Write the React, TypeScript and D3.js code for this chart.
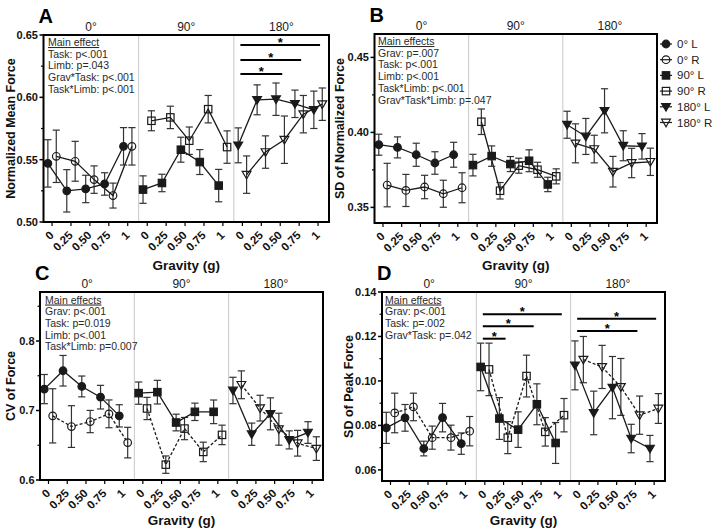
import React from 'react';
import * as d3 from 'd3';

const gravity = ['0', '0.25', '0.50', '0.75', '1'];
const tilts = ['0°', '90°', '180°'];
const legendLabels = ['0° L', '0° R', '90° L', '90° R', '180° L', '180° R'];

// A: normalized mean force, rows = 0°, 90°, 180°
const aLeftMean = [
  [0.547, 0.525, 0.5265, 0.5305, 0.5607],
  [0.526, 0.5313, 0.558, 0.5481, 0.5292],
  [0.5615, 0.598, 0.5985, 0.5948, 0.59],
];
const aLeftErr = [
  [0.019, 0.017, 0.011, 0.009, 0.015],
  [0.011, 0.007, 0.01, 0.01, 0.013],
  [0.014, 0.012, 0.013, 0.011, 0.015],
];
const aRightMean = [
  [0.5527, 0.5487, 0.534, 0.5212, 0.5607],
  [0.5812, 0.5839, 0.5652, 0.5905, 0.5601],
  [0.538, 0.5561, 0.566, 0.5865, 0.5945],
];
const aRightErr = [
  [0.021, 0.016, 0.011, 0.01, 0.015],
  [0.008, 0.009, 0.011, 0.011, 0.013],
  [0.015, 0.013, 0.019, 0.015, 0.013],
];

// B: SD of normalized force
const bLeftMean = [
  [0.3918, 0.39, 0.3851, 0.3796, 0.3851],
  [0.3782, 0.3842, 0.3789, 0.3811, 0.3653],
  [0.4051, 0.3973, 0.4144, 0.3911, 0.3907],
];
const bLeftErr = [
  [0.007, 0.007, 0.0077, 0.0075, 0.0083],
  [0.0072, 0.0068, 0.005, 0.0073, 0.0048],
  [0.009, 0.012, 0.0147, 0.01, 0.0085],
];
const bRightMean = [
  [0.3649, 0.3613, 0.3636, 0.3591, 0.3631],
  [0.4071, 0.3611, 0.3778, 0.3751, 0.3707],
  [0.3927, 0.3889, 0.3738, 0.3796, 0.3804],
];
const bRightErr = [
  [0.0145, 0.0107, 0.0078, 0.009, 0.01],
  [0.0085, 0.0055, 0.005, 0.005, 0.005],
  [0.013, 0.0092, 0.0102, 0.0098, 0.0091],
];

// C: CV of force
const cLeftMean = [
  [0.7308, 0.7572, 0.7346, 0.7192, 0.6923],
  [0.725, 0.7264, 0.6827, 0.6981, 0.6981],
  [0.7288, 0.6659, 0.6952, 0.6577, 0.6683],
];
const cLeftErr = [
  [0.021, 0.022, 0.015, 0.017, 0.016],
  [0.016, 0.017, 0.012, 0.0125, 0.017],
  [0.019, 0.016, 0.023, 0.013, 0.0156],
];
const cRightMean = [
  [0.6923, 0.6769, 0.6841, 0.6952, 0.6538],
  [0.7029, 0.6221, 0.674, 0.6404, 0.6649],
  [0.737, 0.7034, 0.6731, 0.6529, 0.6452],
];
const cRightErr = [
  [0.039, 0.03, 0.016, 0.02, 0.022],
  [0.016, 0.0125, 0.016, 0.014, 0.014],
  [0.02, 0.0185, 0.023, 0.0185, 0.017],
];

// D: SD of peak force
const dLeftMean = [
  [0.0789, 0.0834, 0.0696, 0.0835, 0.0718],
  [0.1063, 0.0831, 0.0781, 0.0895, 0.0721],
  [0.107, 0.0856, 0.097, 0.0741, 0.0696],
];
const dLeftErr = [
  [0.007, 0.006, 0.0033, 0.0064, 0.0048],
  [0.0107, 0.0094, 0.008, 0.0092, 0.0092],
  [0.011, 0.0098, 0.014, 0.0064, 0.0059],
];
const dRightMean = [
  [0.0856, 0.0883, 0.0745, 0.0745, 0.0774],
  [0.1052, 0.0745, 0.1022, 0.0771, 0.0846],
  [0.1096, 0.1063, 0.0973, 0.0846, 0.0876],
];
const dRightErr = [
  [0.0089, 0.0062, 0.0052, 0.0056, 0.0066],
  [0.0118, 0.0072, 0.0094, 0.0064, 0.0075],
  [0.0104, 0.0097, 0.0128, 0.0086, 0.0067],
];

const aNotes = ['Main effect', 'Task: p<.001', 'Limb: p=.043', 'Grav*Task: p<.001', 'Task*Limb: p<.001'];
const bNotes = ['Main effects', 'Grav: p=.007', 'Task: p<.001', 'Limb: p<.001', 'Task*Limb: p<.001', 'Grav*Task*Limb: p=.047'];
const cNotes = ['Main effects', 'Grav: p<.001', 'Task: p=0.019', 'Limb: p<.001', 'Task*Limb: p=0.007'];
const dNotes = ['Main effects', 'Grav: p<.001', 'Task: p=.002', 'Grav*Task: p=.042'];

// significance bars: section index, from / to category index, height in data units
const aSig = [
  { s: 2, from: 0, to: 4, y: 0.642 },
  { s: 2, from: 0, to: 3, y: 0.63 },
  { s: 2, from: 0, to: 2, y: 0.6188 },
];
const dSig = [
  { s: 1, from: 0, to: 4, y: 0.13 },
  { s: 1, from: 0, to: 2.5, y: 0.1246 },
  { s: 1, from: 0, to: 1, y: 0.119 },
  { s: 2, from: 0, to: 4, y: 0.128 },
  { s: 2, from: 0, to: 3, y: 0.1225 },
];

const FONT = 'Arial, "Liberation Sans", sans-serif';
const INK = '#1a1a1a';
const shapes = ['circle', 'square', 'triangle'];

type Sig = { s: number; from: number; to: number; y: number };
interface PanelCfg {
  letter: string;
  box: [number, number, number, number];
  domain: [number, number];
  major: number[];
  minor: number[];
  fmt: string;
  yLabel: string;
  yLabelX: number;
  gravY: number;
  notes: string[];
  notesAt: [number, number];
  L: number[][];
  Le: number[][];
  R: number[][];
  Re: number[][];
  dashR: boolean;
  sig: Sig[];
  legend: boolean;
}

const Marker: React.FC<{ shape: string; filled: boolean; x: number; y: number }> = ({ shape, filled, x, y }) => {
  const fill = filled ? INK : 'none';
  const common = { fill, stroke: INK, strokeWidth: 1.2 };
  if (shape === 'circle') return <circle cx={x} cy={y} r={3.8} {...common} />;
  if (shape === 'square') return <rect x={x - 3.7} y={y - 3.7} width={7.4} height={7.4} {...common} />;
  return <path d={`M${x - 4.4},${y - 3.3}L${x + 4.4},${y - 3.3}L${x},${y + 4.3}Z`} {...common} />;
};

const Panel: React.FC<{ cfg: PanelCfg }> = ({ cfg }) => {
  const [x0, y0, x1, y1] = cfg.box;
  const y = d3.scaleLinear().domain(cfg.domain).range([y1, y0]);
  const sec = d3.scaleBand<number>().domain([0, 1, 2]).range([x0, x1]).padding(0);
  const w = sec.bandwidth();
  const xIn = (s: number) =>
    d3.scalePoint<number>().domain([0, 1, 2, 3, 4]).range([sec(s)! + 0.09 * w, sec(s)! + w - 0.115 * w]);
  const xAt = (s: number, i: number) => {
    const p = xIn(s);
    const lo = Math.floor(i);
    const hi = Math.min(4, Math.ceil(i));
    return p(lo)! + (p(hi)! - p(lo)!) * (i - lo);
  };
  const fmt = d3.format(cfg.fmt);
  const dodge = 4.2;
  const line = d3.line<[number, number]>().x(d => d[0]).y(d => d[1]);

  const series = (s: number, means: number[][], errs: number[][], filled: boolean, off: number, dashed: boolean) => {
    const pts: [number, number][] = means[s].map((m, i) => [xIn(s)(i)! + off, y(m)]);
    return (
      <g key={`${s}-${filled}`}>
        {means[s].map((m, i) => {
          const cx = xIn(s)(i)! + off;
          const top = y(m + errs[s][i]);
          const bot = y(m - errs[s][i]);
          return (
            <g key={i} stroke="#333" strokeWidth={1.2}>
              <line x1={cx} x2={cx} y1={top} y2={bot} />
              <line x1={cx - 3.6} x2={cx + 3.6} y1={top} y2={top} />
              <line x1={cx - 3.6} x2={cx + 3.6} y1={bot} y2={bot} />
            </g>
          );
        })}
        <path d={line(pts)!} fill="none" stroke={INK} strokeWidth={1.3} strokeDasharray={dashed ? '3,2' : undefined} />
        {pts.map((p, i) => (
          <Marker key={i} shape={shapes[s]} filled={filled} x={p[0]} y={p[1]} />
        ))}
      </g>
    );
  };

  return (
    <g fontFamily={FONT}>
      <text x={cfg.box[0] - 5} y={y0 - 12} fontSize={20} fontWeight="bold" fill="#000">
        {cfg.letter}
      </text>
      {/* section titles and dividers */}
      {tilts.map((t, s) => (
        <text key={t} x={sec(s)! + w / 2} y={y0 - 4.5} fontSize={12} textAnchor="middle" fill={INK}>
          {t}
        </text>
      ))}
      {[1, 2].map(s => (
        <line key={s} x1={sec(s)!} x2={sec(s)!} y1={y0} y2={y1} stroke="#c8c8c8" strokeWidth={1} />
      ))}
      {/* y axis */}
      {cfg.major.map(v => (
        <g key={v}>
          <line x1={x0 - 4} x2={x0} y1={y(v)} y2={y(v)} stroke="#000" strokeWidth={1.5} />
          <text x={x0 - 5.5} y={y(v) + 4} fontSize={11} fontWeight="bold" textAnchor="end" fill="#111">
            {fmt(v)}
          </text>
        </g>
      ))}
      {cfg.minor.map(v => (
        <line key={v} x1={x0 - 2.5} x2={x0} y1={y(v)} y2={y(v)} stroke="#000" strokeWidth={1.2} />
      ))}
      <text
        transform={`translate(${cfg.yLabelX},${(y0 + y1) / 2}) rotate(-90)`}
        fontSize={12.5}
        fontWeight="bold"
        textAnchor="middle"
        fill="#111"
      >
        {cfg.yLabel}
      </text>
      {/* x axis */}
      {tilts.map((t, s) =>
        gravity.map((g, i) => {
          const gx = xIn(s)(i)!;
          return (
            <g key={`${t}${g}`}>
              <line x1={gx} x2={gx} y1={y1} y2={y1 + 4} stroke="#000" strokeWidth={1.2} />
              <text
                transform={`translate(${gx + 2.5},${y1 + 14}) rotate(-45)`}
                fontSize={11.5}
                fontWeight="bold"
                textAnchor="end"
                fill="#111"
              >
                {g}
              </text>
            </g>
          );
        })
      )}
      <text x={(x0 + x1) / 2} y={cfg.gravY} fontSize={13.5} fontWeight="bold" textAnchor="middle" fill="#111">
        Gravity (g)
      </text>
      {/* notes */}
      {cfg.notes.map((n, i) => (
        <text
          key={n}
          x={cfg.notesAt[0]}
          y={cfg.notesAt[1] + i * 11.7}
          fontSize={10.5}
          fill="#2a2a2a"
          textDecoration={i === 0 ? 'underline' : undefined}
        >
          {n}
        </text>
      ))}
      {/* data */}
      {[0, 1, 2].map(s => (
        <g key={s}>
          {series(s, cfg.R, cfg.Re, false, dodge, cfg.dashR)}
          {series(s, cfg.L, cfg.Le, true, -dodge, false)}
        </g>
      ))}
      {/* significance */}
      {cfg.sig.map((b, i) => {
        const xa = xAt(b.s, b.from) - 2;
        const xb = xAt(b.s, b.to) + 2;
        return (
          <g key={i}>
            <line x1={xa} x2={xb} y1={y(b.y)} y2={y(b.y)} stroke="#000" strokeWidth={2} />
            <text x={(xa + xb) / 2} y={y(b.y) + 2} fontSize={13} fontWeight="bold" textAnchor="middle" fill="#000">
              *
            </text>
          </g>
        );
      })}
      <rect x={x0} y={y0} width={x1 - x0} height={y1 - y0} fill="none" stroke="#000" strokeWidth={2} />
      {cfg.legend &&
        legendLabels.map((lab, i) => {
          const ly = y0 + 10 + i * 15.7;
          return (
            <g key={lab}>
              <line x1={x1 + 3} x2={x1 + 15} y1={ly} y2={ly} stroke={INK} strokeWidth={1.2} />
              <Marker shape={shapes[Math.floor(i / 2)]} filled={i % 2 === 0} x={x1 + 9} y={ly} />
              <text x={x1 + 20} y={ly + 4} fontSize={11.5} fill="#222">
                {lab}
              </text>
            </g>
          );
        })}
    </g>
  );
};

const panels: PanelCfg[] = [
  {
    letter: 'A', box: [43.5, 35, 329, 222], domain: [0.5, 0.65],
    major: [0.5, 0.55, 0.6, 0.65], minor: [0.525, 0.575, 0.625], fmt: '.2f',
    yLabel: 'Normalized Mean Force', yLabelX: 15, gravY: 270, notes: aNotes, notesAt: [48, 46],
    L: aLeftMean, Le: aLeftErr, R: aRightMean, Re: aRightErr, dashR: false, sig: aSig, legend: false,
  },
  {
    letter: 'B', box: [374.5, 34, 657, 223], domain: [0.3396, 0.4656],
    major: [0.35, 0.4, 0.45], minor: [0.375, 0.425], fmt: '.2f',
    yLabel: 'SD of Normalized Force', yLabelX: 344, gravY: 270, notes: bNotes, notesAt: [378, 45],
    L: bLeftMean, Le: bLeftErr, R: bRightMean, Re: bRightErr, dashR: false, sig: [], legend: true,
  },
  {
    letter: 'C', box: [40, 292, 323, 480], domain: [0.6, 0.8705],
    major: [0.6, 0.7, 0.8], minor: [0.65, 0.75, 0.85], fmt: '.1f',
    yLabel: 'CV of Force', yLabelX: 15, gravY: 525, notes: cNotes, notesAt: [45, 303.5],
    L: cLeftMean, Le: cLeftErr, R: cRightMean, Re: cRightErr, dashR: true, sig: [], legend: false,
  },
  {
    letter: 'D', box: [382, 292, 665, 481], domain: [0.055, 0.14],
    major: [0.06, 0.08, 0.1, 0.12, 0.14], minor: [0.07, 0.09, 0.11, 0.13], fmt: '.2f',
    yLabel: 'SD of Peak Force', yLabelX: 353, gravY: 525, notes: dNotes, notesAt: [385, 303.5],
    L: dLeftMean, Le: dLeftErr, R: dRightMean, Re: dRightErr, dashR: true, sig: dSig, legend: false,
  },
];

const App: React.FC = () => (
  <svg width={714} height={530} style={{ position: 'absolute', left: 0, top: 0, background: '#fff' }}>
    {panels.map(p => (
      <Panel key={p.letter} cfg={p} />
    ))}
  </svg>
);

export default App;
